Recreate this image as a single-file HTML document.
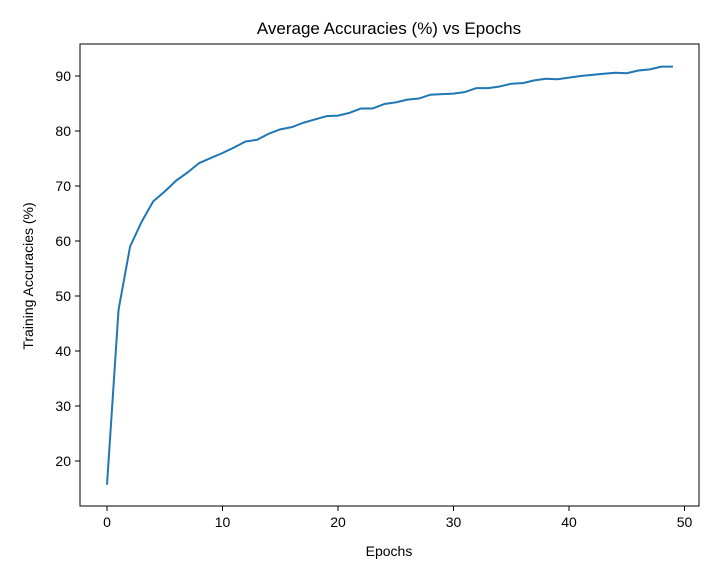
<!DOCTYPE html>
<html><head><meta charset="utf-8"><style>
body{margin:0;background:#fff}
text{font-family:"Liberation Sans","DejaVu Sans",sans-serif;fill:#000}
</style></head><body>
<svg id="c" width="725" height="566" xmlns="http://www.w3.org/2000/svg">
<rect width="725" height="566" fill="#fff"/>
<text x="389" y="34" font-size="17" text-anchor="middle">Average Accuracies (%) vs Epochs</text>
<text x="389" y="556" font-size="14" text-anchor="middle">Epochs</text>
<text transform="translate(33,276) rotate(-90)" font-size="14" text-anchor="middle">Training Accuracies (%)</text>
<g id="ticks"></g>
<path id="line" fill="none" stroke="#1f77b4" stroke-width="2" stroke-linejoin="round"/>
<rect x="80" y="44" width="619" height="462" fill="none" stroke="#000" stroke-width="1"/>
</svg>
<script>
const epochs=[...Array(50).keys()];
const accuracies=[15.7,47.5,59,63.5,67.2,69,71,72.5,74.2,75.1,76,77,78.1,78.4,79.5,80.3,80.7,81.5,82.1,82.7,82.8,83.3,84.1,84.1,84.9,85.2,85.7,85.9,86.6,86.7,86.8,87.1,87.8,87.8,88.1,88.6,88.7,89.2,89.5,89.4,89.7,90.0,90.2,90.4,90.6,90.5,91.0,91.2,91.7,91.7];
const xTicks=[0,10,20,30,40,50];
const yTicks=[20,30,40,50,60,70,80,90];
const xs=v=>107+v*11.55;
const ys=v=>461-(v-20)*5.5;
const ns="http://www.w3.org/2000/svg";
const g=document.getElementById('ticks');
function add(tag,attrs,txt){const e=document.createElementNS(ns,tag);for(const k in attrs)e.setAttribute(k,attrs[k]);if(txt!==undefined)e.textContent=txt;g.appendChild(e);return e;}
xTicks.forEach(t=>{
 const l=add('line',{x1:xs(t),x2:xs(t),y1:506,y2:511,stroke:'#000'});
 
 
 const tx=add('text',{x:xs(t),y:527,'font-size':14,'text-anchor':'middle'},t);
 
 
});
yTicks.forEach(t=>{
 const l=add('line',{x1:75,x2:80,y1:ys(t),y2:ys(t),stroke:'#000'});
 
 
 const tx=add('text',{x:71,y:ys(t)+5,'font-size':14,'text-anchor':'end'},t);
 
 
});
document.getElementById('line').setAttribute('d',accuracies.map((v,i)=>(i?'L':'M')+xs(epochs[i])+','+ys(v)).join(''));
</script>
</body></html>
